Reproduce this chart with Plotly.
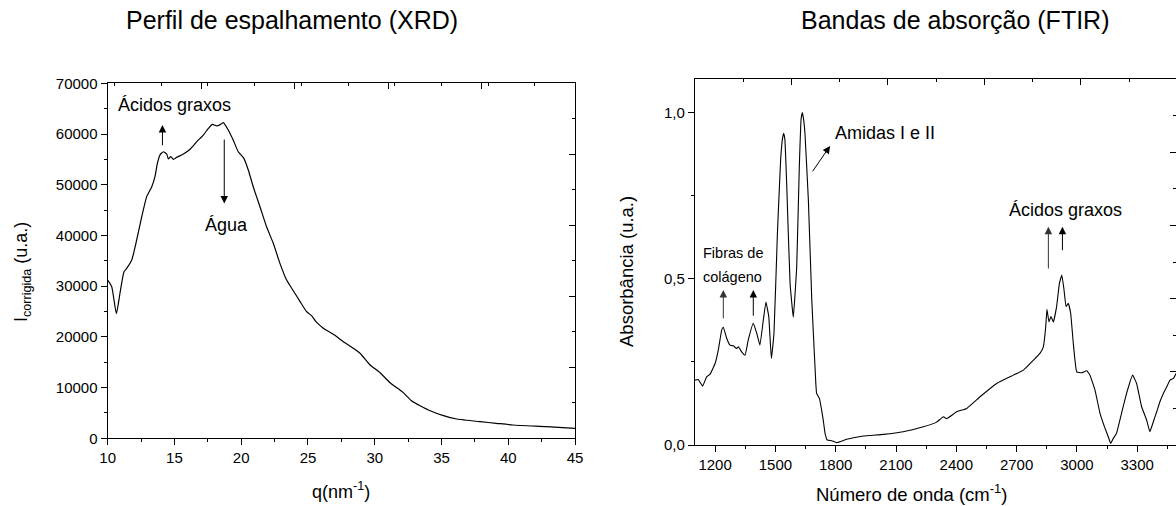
import plotly.graph_objects as go

# ---------------- data ----------------
q_xrd = [10.0, 10.3, 10.65, 10.92, 11.22, 11.42, 11.8, 12.17, 12.55, 12.92, 13.3, 13.54, 13.72, 13.92,
         14.17, 14.42, 14.54, 14.72, 14.92, 15.17, 15.67, 16.17, 16.67, 17.16, 17.54, 17.84, 18.17, 18.4,
         18.66, 19.03, 19.4, 19.78, 20.2, 20.53, 20.9, 21.4, 21.9, 22.4, 22.9, 23.4, 23.9, 24.4, 24.9,
         25.3, 25.6, 26.15, 26.9, 27.65, 28.4, 28.9, 29.65, 30.4, 31.15, 32.14, 32.77, 33.4, 34.15,
         35.15, 36.15, 37.9, 39.1, 40.35, 42.85, 45.0]
i_xrd = [31200, 29900, 24600, 28600, 32850, 33500, 35150, 39100, 43700, 47650, 49600, 51600, 54200, 55900,
         56500, 56060, 55100, 55550, 55000, 55400, 56060, 57000, 58500, 59800, 61100, 61900, 61600, 61800,
         62250, 60800, 58800, 56500, 55200, 52900, 49600, 45700, 41700, 38450, 34500, 31200, 29100, 27000,
         24970, 24100, 23000, 21700, 20500, 19050, 17750, 16760, 14450, 12940, 10960, 9000, 7360, 6430,
         5440, 4460, 3800, 3270, 2960, 2620, 2290, 1970]

wn_ftir = [1100, 1116, 1138, 1158, 1175, 1200, 1216, 1233, 1241, 1258, 1274, 1291, 1307, 1316, 1332, 1349,
           1365, 1390, 1407, 1423, 1440, 1453, 1467, 1480, 1493, 1510, 1526, 1535, 1541, 1547, 1556, 1573,
           1589, 1606, 1619, 1628, 1634, 1640, 1647, 1664, 1681, 1697, 1705, 1719, 1730, 1738, 1747, 1758,
           1780, 1805, 1855, 1937, 2037, 2136, 2236, 2300, 2336, 2352, 2402, 2452, 2518, 2601, 2684, 2734,
           2784, 2817, 2833, 2845, 2851, 2861, 2871, 2883, 2899, 2913, 2925, 2936, 2946, 2957, 2969, 2982,
           2999, 3024, 3049, 3065, 3090, 3115, 3140, 3156, 3168, 3181, 3197, 3222, 3247, 3277, 3297, 3322,
           3347, 3363, 3383, 3397, 3413, 3430, 3447, 3463, 3480, 3493]
abs_ftir = [0.195, 0.197, 0.177, 0.205, 0.213, 0.245, 0.286, 0.346, 0.354, 0.32, 0.30, 0.298, 0.29, 0.295,
            0.28, 0.27, 0.316, 0.366, 0.336, 0.30, 0.376, 0.43, 0.386, 0.26, 0.336, 0.636, 0.857, 0.92, 0.937,
            0.92, 0.787, 0.486, 0.384, 0.536, 0.837, 0.98, 0.999, 0.98, 0.937, 0.736, 0.436, 0.235, 0.155, 0.14,
            0.105, 0.075, 0.035, 0.015, 0.013, 0.007, 0.017, 0.027, 0.032, 0.04, 0.055, 0.068, 0.085, 0.079,
            0.1, 0.11, 0.145, 0.185, 0.21, 0.225, 0.255, 0.276, 0.295, 0.356, 0.408, 0.37, 0.386, 0.37, 0.416,
            0.486, 0.511, 0.466, 0.416, 0.426, 0.396, 0.306, 0.22, 0.217, 0.223, 0.21, 0.165, 0.095, 0.05,
            0.025, 0.005, 0.02, 0.035, 0.095, 0.155, 0.21, 0.185, 0.115, 0.075, 0.04, 0.075, 0.1, 0.13, 0.155,
            0.175, 0.195, 0.2, 0.215]

xrd_range_x = [10, 45]
xrd_range_y = [0, 70000]
ftir_range_x = [1100, 3493]
ftir_range_y = [0, 1.1]

# ---------------- layout helpers ----------------
W, H = 1176, 506
FONT = "Liberation Sans, Arial, Helvetica, sans-serif"
BLACK = "#000000"


def px(x):
    return x / W


def py(y):
    return 1 - y / H


base_axis = dict(showline=True, linecolor=BLACK, linewidth=1.3, showgrid=False, zeroline=False,
                 ticks="outside", ticklen=6, tickwidth=1.2, tickcolor=BLACK,
                 tickfont=dict(family=FONT, size=15, color=BLACK), automargin=False)

fig = go.Figure()

fig.add_trace(go.Scatter(x=q_xrd, y=i_xrd, mode="lines", line=dict(color=BLACK, width=1.2, shape="spline", smoothing=0.5),
                         xaxis="x", yaxis="y", showlegend=False, hoverinfo="skip"))
fig.add_trace(go.Scatter(x=q_xrd, y=i_xrd, mode="lines", opacity=0, xaxis="x3", yaxis="y3",
                         showlegend=False, hoverinfo="skip"))
fig.add_trace(go.Scatter(x=wn_ftir, y=abs_ftir, mode="lines", line=dict(color=BLACK, width=1.1, shape="spline", smoothing=0.3),
                         xaxis="x2", yaxis="y2", showlegend=False, hoverinfo="skip"))
fig.add_trace(go.Scatter(x=wn_ftir, y=abs_ftir, mode="lines", opacity=0, xaxis="x4", yaxis="y4",
                         showlegend=False, hoverinfo="skip"))

dom_x1 = [px(107.7), px(575)]
dom_y1 = [py(438.3), py(83.3)]
dom_x2 = [px(695), 1.0]
dom_y2 = [py(445), py(79)]

fig.update_layout(
    width=W, height=H, margin=dict(l=0, r=0, t=0, b=0),
    template="none", paper_bgcolor="white", plot_bgcolor="rgba(0,0,0,0)",
    separators=",.", font=dict(family=FONT, color=BLACK),
    xaxis=dict(base_axis, domain=dom_x1, range=xrd_range_x, anchor="y", tick0=10, dtick=5, tickformat="d",
               minor=dict(dtick=2.5, ticklen=3, ticks="outside", tickcolor=BLACK, tickwidth=1.2)),
    yaxis=dict(base_axis, domain=dom_y1, range=xrd_range_y, anchor="x", tick0=0, dtick=10000, tickformat="d",
               minor=dict(dtick=5000, ticklen=3, ticks="outside", tickcolor=BLACK, tickwidth=1.2)),
    xaxis3=dict(base_axis, overlaying="x", side="top", anchor="y", range=xrd_range_x, tick0=10, dtick=7,
                ticks="inside", ticklen=6, showticklabels=False,
                minor=dict(dtick=3.5, ticklen=3, ticks="inside", tickcolor=BLACK, tickwidth=1.2)),
    yaxis3=dict(base_axis, overlaying="y", side="right", anchor="x", range=xrd_range_y, tick0=0, dtick=14000,
                ticks="inside", ticklen=6, showticklabels=False,
                minor=dict(dtick=7000, ticklen=3, ticks="inside", tickcolor=BLACK, tickwidth=1.2)),
    xaxis2=dict(base_axis, domain=dom_x2, range=ftir_range_x, anchor="y2", tick0=1200, dtick=300, tickformat="d",
                minor=dict(dtick=150, tick0=1200, ticklen=3, ticks="outside", tickcolor=BLACK, tickwidth=1.2)),
    yaxis2=dict(base_axis, domain=dom_y2, range=ftir_range_y, anchor="x2", tick0=0, dtick=0.5, tickformat=".1f",
                minor=dict(dtick=0.25, ticklen=3, ticks="outside", tickcolor=BLACK, tickwidth=1.2)),
    xaxis4=dict(base_axis, overlaying="x2", side="top", anchor="y2", range=ftir_range_x, tick0=1100, dtick=480,
                ticks="inside", ticklen=6, showticklabels=False,
                minor=dict(dtick=240, tick0=1100, ticklen=3, ticks="inside", tickcolor=BLACK, tickwidth=1.2)),
    yaxis4=dict(base_axis, overlaying="y2", side="right", anchor="x2", range=ftir_range_y, tick0=0, dtick=0.22,
                showline=False, ticks="inside", ticklen=6, showticklabels=False,
                minor=dict(dtick=0.11, ticklen=3, ticks="inside", tickcolor=BLACK, tickwidth=1.2)),
)

ann = []
# panel titles
ann.append(dict(text="Perfil de espalhamento (XRD)", x=px(292), y=py(20), xref="paper", yref="paper",
                showarrow=False, font=dict(size=25, family=FONT, color=BLACK), xanchor="center", yanchor="middle"))
ann.append(dict(text="Bandas de absorção (FTIR)", x=px(955), y=py(20), xref="paper", yref="paper",
                showarrow=False, font=dict(size=25, family=FONT, color=BLACK), xanchor="center", yanchor="middle"))
# axis titles
ann.append(dict(text="I<sub>corrigida</sub> (u.a.)", x=px(22), y=py(272), xref="paper", yref="paper", textangle=-90,
                showarrow=False, font=dict(size=18, family=FONT, color=BLACK), xanchor="center", yanchor="middle"))
ann.append(dict(text="q(nm<sup>-1</sup>)", x=px(341), y=py(490), xref="paper", yref="paper",
                showarrow=False, font=dict(size=18, family=FONT, color=BLACK), xanchor="center", yanchor="middle"))
ann.append(dict(text="Absorbância (u.a.)", x=px(626), y=py(272), xref="paper", yref="paper", textangle=-90,
                showarrow=False, font=dict(size=18.5, family=FONT, color=BLACK), xanchor="center", yanchor="middle"))
ann.append(dict(text="Número de onda (cm<sup>-1</sup>)", x=px(911), y=py(493), xref="paper", yref="paper",
                showarrow=False, font=dict(size=18.5, family=FONT, color=BLACK), xanchor="center", yanchor="middle"))

# XRD annotations
ann.append(dict(text="Ácidos graxos", x=15.0, y=65800, xref="x", yref="y", showarrow=False,
                font=dict(size=18, family=FONT, color=BLACK), xanchor="center", yanchor="middle"))
ann.append(dict(text="", x=14.1, y=61800, ax=14.1, ay=57500, xref="x", yref="y", axref="x", ayref="y",
                showarrow=True, arrowhead=2, arrowsize=1.5, arrowwidth=1, arrowcolor=BLACK))
ann.append(dict(text="Água", x=18.9, y=42000, xref="x", yref="y", showarrow=False,
                font=dict(size=18, family=FONT, color=BLACK), xanchor="center", yanchor="middle"))
ann.append(dict(text="", x=18.73, y=46300, ax=18.73, ay=59200, xref="x", yref="y", axref="x", ayref="y",
                showarrow=True, arrowhead=2, arrowsize=1.5, arrowwidth=1, arrowcolor=BLACK))

# FTIR annotations
ann.append(dict(text="Amidas I e II", x=2045, y=0.937, xref="x2", yref="y2", showarrow=False,
                font=dict(size=18, family=FONT, color=BLACK), xanchor="center", yanchor="middle"))
ann.append(dict(text="", x=1772, y=0.899, ax=1680, ay=0.818, xref="x2", yref="y2", axref="x2", ayref="y2",
                showarrow=True, arrowhead=2, arrowsize=1.5, arrowwidth=1, arrowcolor=BLACK))
ann.append(dict(text="Fibras de", x=1289, y=0.578, xref="x2", yref="y2", showarrow=False,
                font=dict(size=14.5, family=FONT, color=BLACK), xanchor="center", yanchor="middle"))
ann.append(dict(text="colágeno", x=1287, y=0.506, xref="x2", yref="y2", showarrow=False,
                font=dict(size=14.5, family=FONT, color=BLACK), xanchor="center", yanchor="middle"))
ann.append(dict(text="", x=1241, y=0.466, ax=1241, ay=0.376, xref="x2", yref="y2", axref="x2", ayref="y2",
                showarrow=True, arrowhead=2, arrowsize=1.5, arrowwidth=1, arrowcolor="#333333"))
ann.append(dict(text="", x=1390, y=0.466, ax=1390, ay=0.384, xref="x2", yref="y2", axref="x2", ayref="y2",
                showarrow=True, arrowhead=2, arrowsize=1.5, arrowwidth=1, arrowcolor=BLACK))
ann.append(dict(text="Ácidos graxos", x=2943, y=0.706, xref="x2", yref="y2", showarrow=False,
                font=dict(size=18, family=FONT, color=BLACK), xanchor="center", yanchor="middle"))
ann.append(dict(text="", x=2858, y=0.656, ax=2858, ay=0.526, xref="x2", yref="y2", axref="x2", ayref="y2",
                showarrow=True, arrowhead=2, arrowsize=1.5, arrowwidth=1, arrowcolor="#333333"))
ann.append(dict(text="", x=2928, y=0.656, ax=2928, ay=0.581, xref="x2", yref="y2", axref="x2", ayref="y2",
                showarrow=True, arrowhead=2, arrowsize=1.5, arrowwidth=1, arrowcolor=BLACK))

fig.update_layout(annotations=ann)
fig.write_html("out.html")
